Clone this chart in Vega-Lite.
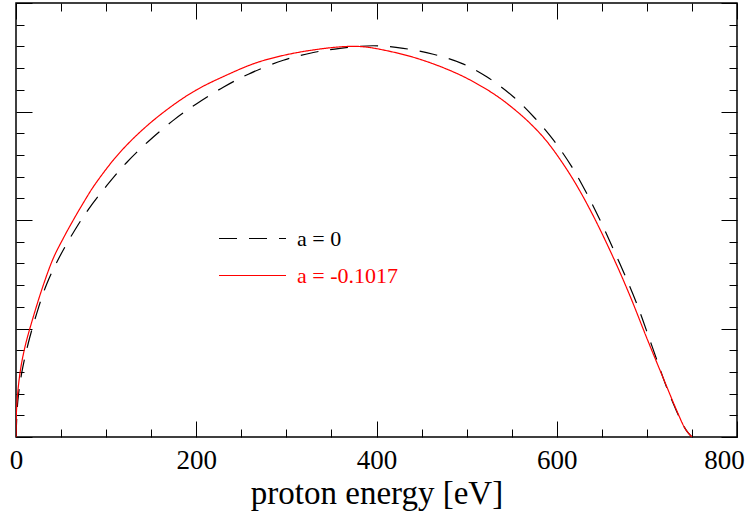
{
  "$schema": "https://vega.github.io/schema/vega-lite/v6.json",
  "width": 721,
  "height": 434,
  "autosize": {"type": "none"},
  "padding": {"left": 16, "top": 3, "right": 9, "bottom": 81},
  "background": "white",
  "config": {
    "view": {"stroke": "black", "strokeWidth": 1.5},
    "font": "Liberation Serif",
    "axis": {"domain": false, "grid": false, "tickColor": "black", "tickWidth": 1}
  },
  "data": {
    "values": [
      {"E": 0, "N": 0, "s": "a = 0"},
      {"E": 2, "N": 1.65, "s": "a = 0"},
      {"E": 6.3, "N": 2.94, "s": "a = 0"},
      {"E": 13.6, "N": 4.32, "s": "a = 0"},
      {"E": 23, "N": 5.7, "s": "a = 0"},
      {"E": 34.1, "N": 7.05, "s": "a = 0"},
      {"E": 48.8, "N": 8.34, "s": "a = 0"},
      {"E": 67.4, "N": 9.68, "s": "a = 0"},
      {"E": 80.2, "N": 10.48, "s": "a = 0"},
      {"E": 100.6, "N": 11.58, "s": "a = 0"},
      {"E": 122.8, "N": 12.65, "s": "a = 0"},
      {"E": 146.8, "N": 13.62, "s": "a = 0"},
      {"E": 174.5, "N": 14.59, "s": "a = 0"},
      {"E": 200.5, "N": 15.36, "s": "a = 0"},
      {"E": 230, "N": 16.12, "s": "a = 0"},
      {"E": 257.8, "N": 16.72, "s": "a = 0"},
      {"E": 296.6, "N": 17.36, "s": "a = 0"},
      {"E": 329.9, "N": 17.72, "s": "a = 0"},
      {"E": 359.5, "N": 17.91, "s": "a = 0"},
      {"E": 396.4, "N": 18.03, "s": "a = 0"},
      {"E": 429.7, "N": 17.91, "s": "a = 0"},
      {"E": 463, "N": 17.64, "s": "a = 0"},
      {"E": 494.5, "N": 17.22, "s": "a = 0"},
      {"E": 522.3, "N": 16.6, "s": "a = 0"},
      {"E": 551.8, "N": 15.68, "s": "a = 0"},
      {"E": 575.9, "N": 14.69, "s": "a = 0"},
      {"E": 596.2, "N": 13.69, "s": "a = 0"},
      {"E": 616.6, "N": 12.46, "s": "a = 0"},
      {"E": 633.2, "N": 11.23, "s": "a = 0"},
      {"E": 648, "N": 10.0, "s": "a = 0"},
      {"E": 662.8, "N": 8.66, "s": "a = 0"},
      {"E": 675.8, "N": 7.44, "s": "a = 0"},
      {"E": 688.7, "N": 6.15, "s": "a = 0"},
      {"E": 699.8, "N": 4.88, "s": "a = 0"},
      {"E": 710.9, "N": 3.57, "s": "a = 0"},
      {"E": 722, "N": 2.28, "s": "a = 0"},
      {"E": 733.1, "N": 1.18, "s": "a = 0"},
      {"E": 741.2, "N": 0.48, "s": "a = 0"},
      {"E": 745.6, "N": 0.2, "s": "a = 0"},
      {"E": 750, "N": 0, "s": "a = 0"},
      {"E": 0, "N": 0, "s": "a = -0.1017"},
      {"E": 0.78, "N": 1.4, "s": "a = -0.1017"},
      {"E": 4.44, "N": 2.95, "s": "a = -0.1017"},
      {"E": 10, "N": 4.16, "s": "a = -0.1017"},
      {"E": 19.2, "N": 5.54, "s": "a = -0.1017"},
      {"E": 30.3, "N": 7.0, "s": "a = -0.1017"},
      {"E": 41.4, "N": 8.24, "s": "a = -0.1017"},
      {"E": 52.5, "N": 9.16, "s": "a = -0.1017"},
      {"E": 63.6, "N": 10.0, "s": "a = -0.1017"},
      {"E": 76.6, "N": 10.92, "s": "a = -0.1017"},
      {"E": 85.8, "N": 11.53, "s": "a = -0.1017"},
      {"E": 108, "N": 12.76, "s": "a = -0.1017"},
      {"E": 130.2, "N": 13.76, "s": "a = -0.1017"},
      {"E": 159.8, "N": 14.84, "s": "a = -0.1017"},
      {"E": 196.7, "N": 15.91, "s": "a = -0.1017"},
      {"E": 233.8, "N": 16.68, "s": "a = -0.1017"},
      {"E": 270.7, "N": 17.3, "s": "a = -0.1017"},
      {"E": 322.5, "N": 17.79, "s": "a = -0.1017"},
      {"E": 378.4, "N": 18.0, "s": "a = -0.1017"},
      {"E": 415, "N": 17.77, "s": "a = -0.1017"},
      {"E": 451.6, "N": 17.36, "s": "a = -0.1017"},
      {"E": 489.3, "N": 16.75, "s": "a = -0.1017"},
      {"E": 514.8, "N": 16.2, "s": "a = -0.1017"},
      {"E": 533.7, "N": 15.71, "s": "a = -0.1017"},
      {"E": 551.5, "N": 15.15, "s": "a = -0.1017"},
      {"E": 570.3, "N": 14.46, "s": "a = -0.1017"},
      {"E": 589.2, "N": 13.61, "s": "a = -0.1017"},
      {"E": 614.7, "N": 12.1, "s": "a = -0.1017"},
      {"E": 636.9, "N": 10.48, "s": "a = -0.1017"},
      {"E": 662.4, "N": 8.3, "s": "a = -0.1017"},
      {"E": 681.3, "N": 6.5, "s": "a = -0.1017"},
      {"E": 700.1, "N": 4.54, "s": "a = -0.1017"},
      {"E": 717.9, "N": 2.74, "s": "a = -0.1017"},
      {"E": 733.4, "N": 1.19, "s": "a = -0.1017"},
      {"E": 741.2, "N": 0.48, "s": "a = -0.1017"},
      {"E": 745.6, "N": 0.2, "s": "a = -0.1017"},
      {"E": 750, "N": 0, "s": "a = -0.1017"}
    ]
  },
  "layer": [
    {
      "transform": [{"filter": "datum.s === 'a = 0'"}],
      "mark": {"type": "line", "strokeWidth": 1.2, "interpolate": "catmull-rom", "clip": true},
      "encoding": {
        "x": {
          "field": "E", "type": "quantitative",
          "scale": {"domain": [0, 800], "nice": false, "zero": false},
          "axis": {
            "orient": "bottom",
            "values": [0, 50, 100, 150, 200, 250, 300, 350, 400, 450, 500, 550, 600, 650, 700, 750, 800],
            "tickSize": {"condition": {"test": "datum.value % 200 === 0", "value": -16}, "value": -8},
            "labelExpr": "datum.value % 200 === 0 ? datum.label : ''",
            "labelFlush": false,
            "labelOverlap": false,
            "labelFont": "Liberation Serif",
            "labelFontSize": 27,
            "labelColor": "black",
            "labelPadding": 26,
            "labelOffset": {"condition": {"test": "datum.value === 800", "value": -13}, "value": 0},
            "title": "proton energy [eV]",
            "titleFont": "Liberation Serif",
            "titleFontSize": 33,
            "titleFontWeight": "normal",
            "titleColor": "black",
            "titlePadding": -4
          }
        },
        "y": {
          "field": "N", "type": "quantitative",
          "scale": {"domain": [0, 20], "nice": false, "zero": false},
          "axis": {
            "orient": "left",
            "values": [0, 1, 2, 3, 4, 5, 6, 7, 8, 9, 10, 11, 12, 13, 14, 15, 16, 17, 18, 19, 20],
            "tickSize": {"condition": {"test": "datum.value % 5 === 0", "value": -16}, "value": -8},
            "labels": false,
            "title": null
          }
        },
        "color": {
          "field": "s", "type": "nominal",
          "scale": {"domain": ["a = 0", "a = -0.1017"], "range": ["black", "#ff0000"]},
          "legend": {
            "title": null,
            "orient": "none",
            "legendX": 202,
            "legendY": 217,
            "symbolType": "stroke",
            "symbolSize": 4489,
            "symbolStrokeWidth": 1.2,
            "clipHeight": 37,
            "rowPadding": 0,
            "labelFont": "Liberation Serif",
            "labelFontSize": 22,
            "labelOffset": 10,
            "labelLimit": 300,
            "encode": {
              "labels": {"update": {"fill": {"signal": "datum.label === 'a = 0' ? 'black' : '#ff0000'"}}}
            }
          }
        },
        "strokeDash": {
          "field": "s", "type": "nominal",
          "scale": {"domain": ["a = 0", "a = -0.1017"], "range": [[18, 12], [1, 0]]},
          "legend": null
        }
      }
    },
    {
      "transform": [{"filter": "datum.s === 'a = -0.1017'"}],
      "mark": {"type": "line", "strokeWidth": 1.2, "interpolate": "catmull-rom", "clip": true},
      "encoding": {
        "x": {
          "field": "E", "type": "quantitative",
          "axis": {
            "orient": "top",
            "values": [0, 50, 100, 150, 200, 250, 300, 350, 400, 450, 500, 550, 600, 650, 700, 750, 800],
            "tickSize": {"condition": {"test": "datum.value % 200 === 0", "value": -16}, "value": -8},
            "labels": false,
            "title": null
          }
        },
        "y": {
          "field": "N", "type": "quantitative",
          "axis": {
            "orient": "right",
            "values": [0, 1, 2, 3, 4, 5, 6, 7, 8, 9, 10, 11, 12, 13, 14, 15, 16, 17, 18, 19, 20],
            "tickSize": {"condition": {"test": "datum.value % 5 === 0", "value": -16}, "value": -8},
            "labels": false,
            "title": null
          }
        },
        "color": {"field": "s", "type": "nominal"},
        "strokeDash": {"field": "s", "type": "nominal"}
      }
    }
  ],
  "resolve": {"axis": {"x": "independent", "y": "independent"}}
}
